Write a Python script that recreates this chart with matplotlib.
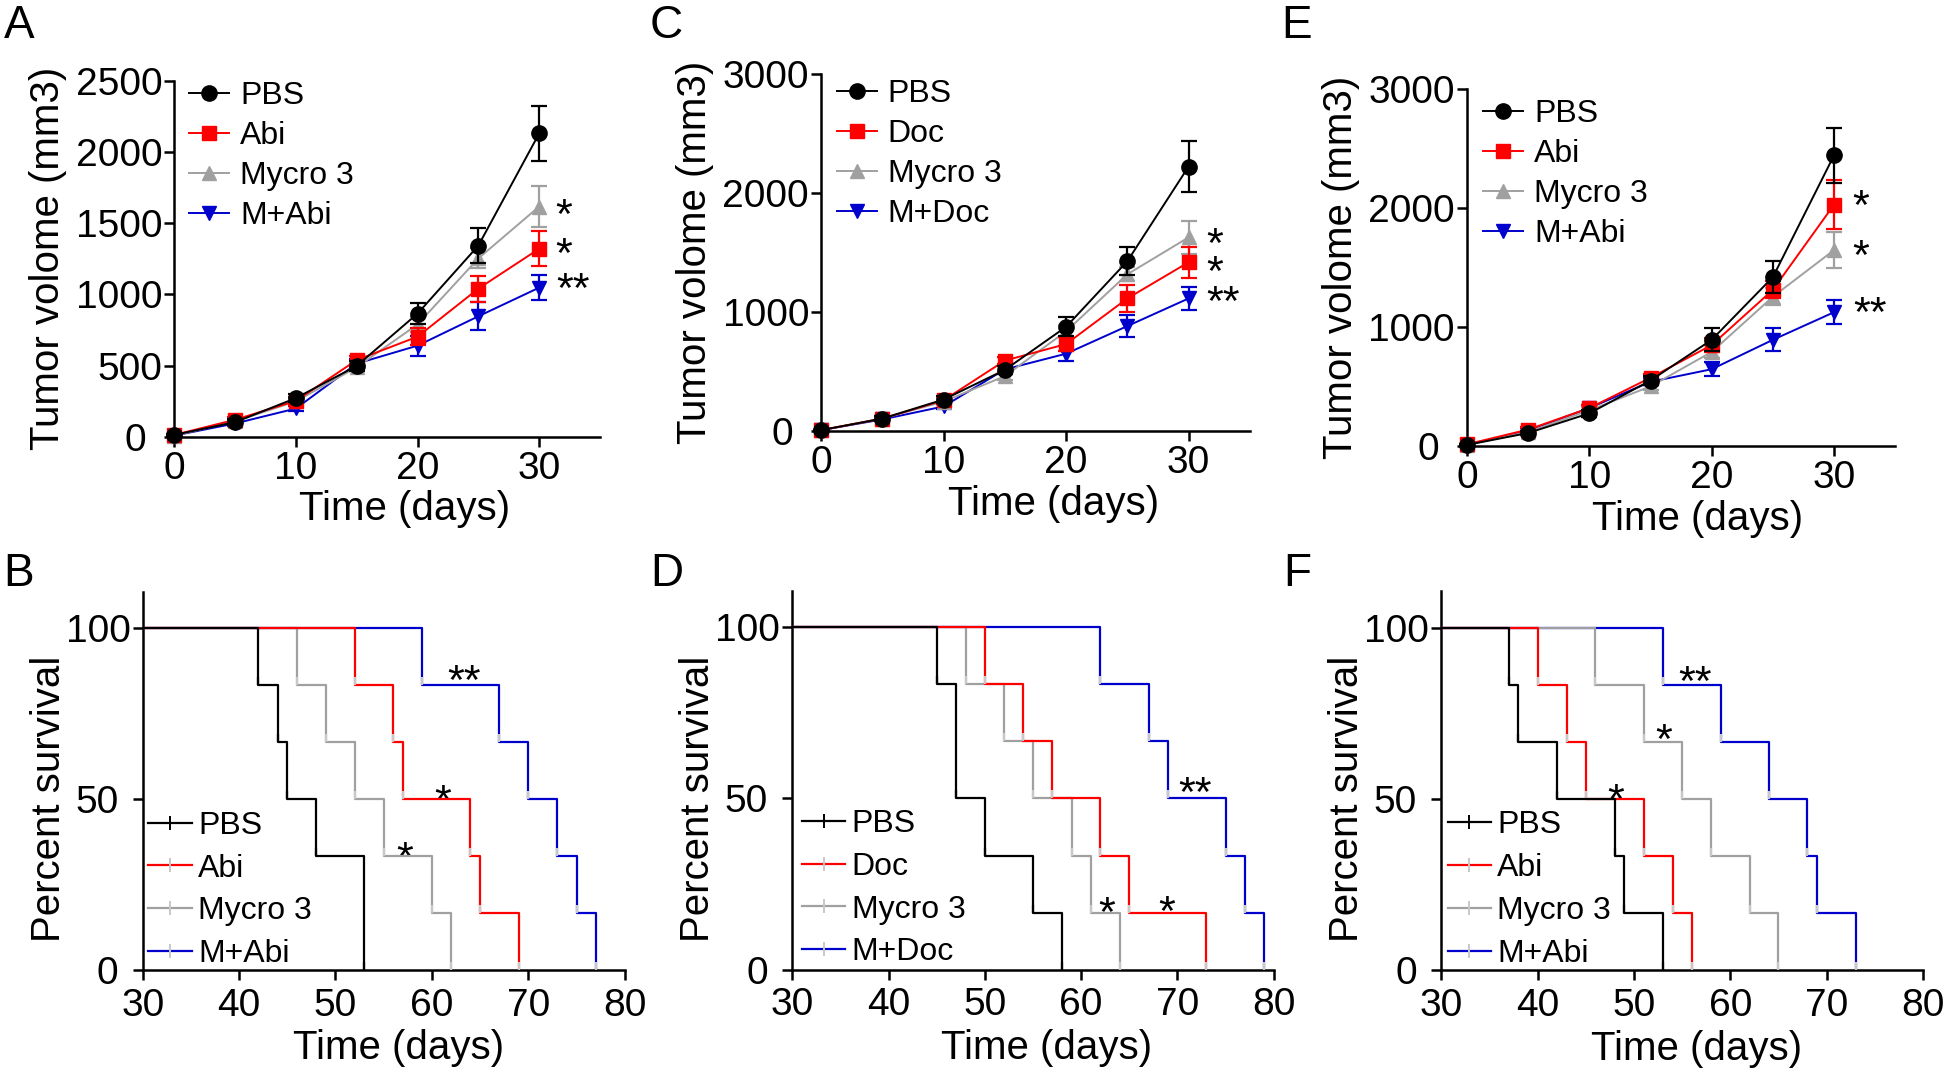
import matplotlib
matplotlib.use("Agg")
import matplotlib.pyplot as plt
from matplotlib.lines import Line2D
from matplotlib.transforms import ScaledTranslation

plt.rcParams['font.family'] = ['Liberation Sans', 'DejaVu Sans']

W, H = 1946, 1068

# ---- tumor volume data (mean, sem) ----
days = [0, 5, 10, 15, 20, 25, 30]

a_labels = ["PBS", "Abi", "Mycro 3", "M+Abi"]
a_pbs = [15, 104, 273, 499, 866, 1343, 2130]
a_pbs_err = [5, 20, 30, 35, 73, 124, 195]
a_abi = [15, 121, 254, 540, 704, 1041, 1321]
a_abi_err = [5, 20, 30, 30, 60, 92, 121]
a_myc = [10, 110, 250, 490, 790, 1253, 1617]
a_myc_err = [5, 15, 25, 30, 50, 70, 145]
a_mab = [10, 95, 200, 515, 641, 847, 1048]
a_mab_err = [5, 15, 20, 30, 70, 97, 90]

c_labels = ["PBS", "Doc", "Mycro 3", "M+Doc"]
c_pbs = [10, 107, 267, 516, 878, 1429, 2224]
c_pbs_err = [5, 20, 30, 35, 80, 120, 211]
c_doc = [10, 107, 261, 594, 733, 1116, 1420]
c_doc_err = [5, 20, 30, 30, 60, 116, 130]
c_myc = [10, 107, 250, 464, 840, 1319, 1629]
c_myc_err = [5, 15, 25, 30, 50, 60, 140]
c_mdo = [10, 100, 209, 520, 652, 884, 1116]
c_mdo_err = [5, 15, 20, 30, 65, 90, 100]

e_labels = ["PBS", "Abi", "Mycro 3", "M+Abi"]
e_pbs = [10, 110, 275, 551, 893, 1420, 2444]
e_pbs_err = [5, 20, 30, 35, 96, 134, 232]
e_abi = [15, 139, 319, 574, 849, 1313, 2029]
e_abi_err = [5, 20, 30, 30, 55, 70, 206]
e_myc = [10, 120, 300, 502, 791, 1255, 1647]
e_myc_err = [5, 15, 25, 30, 55, 70, 153]
e_mab = [10, 130, 320, 540, 646, 893, 1125]
e_mab_err = [5, 15, 25, 30, 60, 95, 100]

# ---- survival data: day of death for each of 6 mice ----
b_labels = ["PBS", "Abi", "Mycro 3", "M+Abi"]
b_pbs = [42, 44, 45, 48, 53, 53]
b_abi = [52, 56, 57, 64, 65, 69]
b_myc = [46, 49, 52, 55, 60, 62]
b_mab = [59, 67, 70, 73, 75, 77]

d_labels = ["PBS", "Doc", "Mycro 3", "M+Doc"]
d_pbs = [45, 47, 47, 50, 55, 58]
d_doc = [50, 54, 57, 62, 65, 73]
d_myc = [48, 52, 55, 59, 61, 64]
d_mdo = [62, 67, 69, 75, 77, 79]

f_labels = ["PBS", "Abi", "Mycro 3", "M+Abi"]
f_pbs = [37, 38, 42, 48, 49, 53]
f_abi = [40, 43, 45, 51, 54, 56]
f_myc = [46, 51, 55, 58, 62, 65]
f_mab = [53, 59, 64, 68, 69, 73]

# significance marks (x, y, text)
a_stars = [(32.0, 1650, "*"), (32.0, 1375, "*"), (32.8, 1130, "**")]
c_stars = [(32.1, 1680, "*"), (32.1, 1450, "*"), (32.8, 1190, "**")]
e_stars = [(32.2, 2125, "*"), (32.2, 1705, "*"), (32.9, 1226, "**")]
b_stars = [(63.3, 88.4, "**"), (61.1, 53.3, "*"), (57.2, 36.5, "*")]
d_stars = [(71.8, 55.3, "**"), (62.6, 20.2, "*"), (68.9, 20.7, "*")]
f_stars = [(56.3, 87.9, "**"), (53.1, 70.8, "*"), (48.1, 53.3, "*")]

colors = ["#000000", "#ff0000", "#a0a0a0", "#0000cc"]
markers = ["o", "s", "^", "v"]
msizes = [11, 10, 10, 10]

TICK_FS = 28
LAB_FS = 29
LEG_FS = 23
STAR_FS = 31


def px_rect(left, right, bottom, top):
    return [left / W, 1 - bottom / H, (right - left) / W, (bottom - top) / H]


def style_axes(ax, xpad):
    for s in ["top", "right"]:
        ax.spines[s].set_visible(False)
    for s in ["left", "bottom"]:
        ax.spines[s].set_linewidth(1.8)
    ax.tick_params(direction="out", length=7.2, width=1.8, labelsize=TICK_FS)
    ax.tick_params(axis="x", pad=xpad)
    ax.tick_params(axis="y", pad=1.5)


def shift_ylabels(ax, idx, dx_px):
    ticks = ax.yaxis.get_major_ticks()
    for i in idx:
        lab = ticks[i].label1
        lab.set_transform(lab.get_transform() + ScaledTranslation(dx_px / 100, 0, fig.dpi_scale_trans))


def add_stars(ax, stars):
    for x, y, t in stars:
        ax.annotate(t, xy=(x, y), xytext=(0, -0.6 * STAR_FS), textcoords="offset points",
                    ha="center", va="baseline", fontsize=STAR_FS)


def volume_panel(rect, series, errs, labels, ymax, yticks, stars, leg_xy, xlab_xy, ylab_x):
    ax = fig.add_axes(rect)
    style_axes(ax, 3.0)
    handles = []
    for i, (ys, es) in enumerate(zip(series, errs)):
        cont = ax.errorbar(days, ys, yerr=es, color=colors[i], marker=markers[i], ms=msizes[i],
                           lw=1.4, elinewidth=1.6, capsize=5.5, capthick=1.6,
                           zorder=10 - i, clip_on=False)
        handles.append(cont[0])
    ax.set_xlim(0, 35)
    ax.set_ylim(0, ymax)
    ax.set_xticks([0, 10, 20, 30])
    ax.set_yticks(yticks)
    shift_ylabels(ax, [0], -16)
    ax.set_xlabel("Time (days)", fontsize=LAB_FS)
    ax.set_ylabel("Tumor volome (mm3)", fontsize=LAB_FS)
    ax.xaxis.set_label_coords(*xlab_xy)
    ax.yaxis.set_label_coords(ylab_x, 0.5)
    ax.legend(handles, labels, loc="upper left", bbox_to_anchor=leg_xy, frameon=False,
              fontsize=LEG_FS, handlelength=1.25, handletextpad=0.35, labelspacing=0.31,
              borderpad=0, borderaxespad=0, numpoints=1)
    add_stars(ax, stars)
    return ax


tick_mark = [(0, 0), (0, 1)]


def survival_panel(rect, groups, labels, stars, leg_xy, xlab_xy, ylab_x):
    ax = fig.add_axes(rect)
    style_axes(ax, 5.5)
    handles = []
    n = 6
    for i, deaths in enumerate(groups):
        xs, ys = [0], [100.0]
        alive = n
        for d in sorted(set(deaths)):
            alive -= deaths.count(d)
            xs.append(d)
            ys.append(100.0 * alive / n)
        ax.step(xs, ys, where="post", color=colors[i], lw=1.6, zorder=10 - i)
        mcol = "#000000" if i == 0 else "#c8c8c8"
        ax.plot(xs[1:], ys[1:], ls="none", marker=tick_mark, ms=11, mew=1.6, mec=mcol,
                zorder=10 - i)
        handles.append(Line2D([], [], color=colors[i], lw=1.6, marker="|", ms=10, mew=1.4,
                              mec=mcol))
    ax.set_xlim(30, 80)
    ax.set_ylim(0, 110.7)
    ax.set_xticks([30, 40, 50, 60, 70, 80])
    ax.set_yticks([0, 50, 100])
    shift_ylabels(ax, [0, 1], -12)
    ax.set_xlabel("Time (days)", fontsize=LAB_FS)
    ax.set_ylabel("Percent survival", fontsize=LAB_FS)
    ax.xaxis.set_label_coords(*xlab_xy)
    ax.yaxis.set_label_coords(ylab_x, 50 / 110.7)
    ax.legend(handles, labels, loc="upper left", bbox_to_anchor=leg_xy, frameon=False,
              fontsize=LEG_FS, handlelength=1.35, handletextpad=0.2, labelspacing=0.4,
              borderpad=0, borderaxespad=0, numpoints=1)
    add_stars(ax, stars)
    return ax


fig = plt.figure(figsize=(W / 100, H / 100), dpi=100)

volume_panel(px_rect(174.3, 600, 437, 80.7),
             [a_pbs, a_abi, a_myc, a_mab], [a_pbs_err, a_abi_err, a_myc_err, a_mab_err],
             a_labels, 2500, [0, 500, 1000, 1500, 2000, 2500], a_stars,
             (0.034, 0.999), (0.542, -0.149), -0.253)
volume_panel(px_rect(821.2, 1249.8, 431.3, 74.2),
             [c_pbs, c_doc, c_myc, c_mdo], [c_pbs_err, c_doc_err, c_myc_err, c_mdo_err],
             c_labels, 3000, [0, 1000, 2000, 3000], c_stars,
             (0.036, 0.986), (0.541, -0.150), -0.249)
volume_panel(px_rect(1466.9, 1895.3, 446.1, 89.0),
             [e_pbs, e_abi, e_myc, e_mab], [e_pbs_err, e_abi_err, e_myc_err, e_mab_err],
             e_labels, 3000, [0, 1000, 2000, 3000], e_stars,
             (0.038, 0.972), (0.5385, -0.151), -0.2495)

survival_panel(px_rect(142.7, 624.7, 970, 591.7), [b_pbs, b_abi, b_myc, b_mab], b_labels,
               b_stars, (0.012, 0.421), (0.53, -0.157), -0.154)
survival_panel(px_rect(792.2, 1273.8, 969.7, 590.6), [d_pbs, d_doc, d_myc, d_mdo], d_labels,
               d_stars, (0.021, 0.424), (0.529, -0.157), -0.157)
survival_panel(px_rect(1441.3, 1923, 970, 591), [f_pbs, f_abi, f_myc, f_mab], f_labels,
               f_stars, (0.013, 0.421), (0.53, -0.157), -0.156)

# panel letters
for letter, x, y in [("A", 4, 38), ("C", 650, 38), ("E", 1281, 38),
                     ("B", 3, 586), ("D", 650, 586), ("F", 1283, 586)]:
    fig.text(x / W, 1 - y / H, letter, fontsize=33, ha="left", va="baseline")

fig.savefig("out.png", dpi=100)
